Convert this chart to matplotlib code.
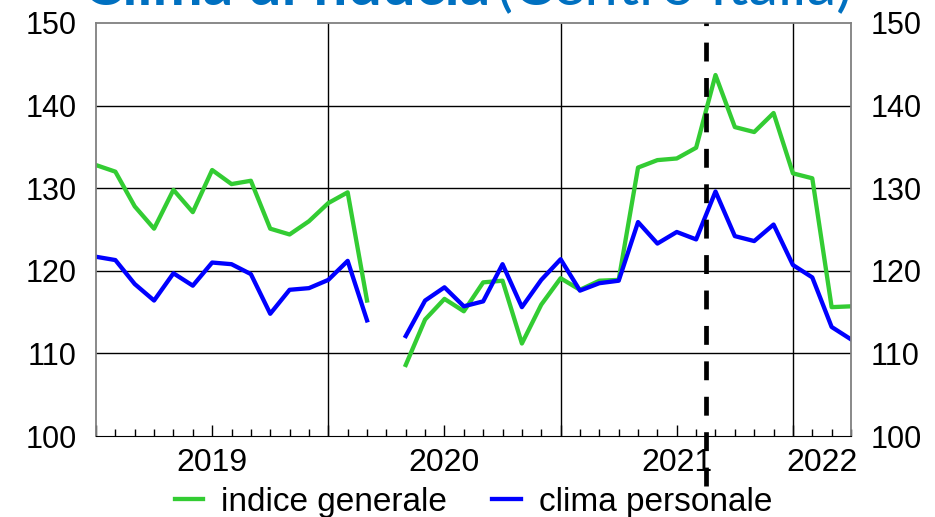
import numpy as np
import matplotlib
matplotlib.use("Agg")
from matplotlib import pyplot as plt
from matplotlib.ticker import MultipleLocator

plt.rcParams['font.family'] = ['Liberation Sans', 'DejaVu Sans']

# mesi da gen 2019 ad apr 2022 (aprile 2020 mancante)
mesi = [f"{a}-{m:02d}" for a in range(2019, 2023) for m in range(1, 13)][:40]

indice_generale = [132.8, 132.0, 127.8, 125.1, 129.8, 127.1, 132.2, 130.5, 130.9, 125.1,
                   124.4, 126.0, 128.2, 129.5, 116.4, np.nan, 108.6, 114.1, 116.6, 115.1,
                   118.6, 118.8, 111.2, 115.9, 119.1, 117.7, 118.8, 118.9, 132.5, 133.4,
                   133.6, 134.9, 143.7, 137.4, 136.8, 139.1, 131.8, 131.2, 115.6, 115.7]
clima_personale = [121.7, 121.3, 118.4, 116.4, 119.7, 118.2, 121.0, 120.8, 119.6, 114.8,
                   117.7, 117.9, 118.9, 121.2, 114.0, np.nan, 112.1, 116.4, 118.0, 115.7,
                   116.3, 120.8, 115.6, 118.9, 121.4, 117.6, 118.5, 118.8, 125.9, 123.3,
                   124.7, 123.8, 129.6, 124.2, 123.6, 125.6, 120.7, 119.2, 113.2, 111.7]

anni = ['2019', '2020', '2021', '2022']
pos_anni = [6, 18, 30, 37.5]
y_ticks = [100, 110, 120, 130, 140, 150]
linea_tratteggiata = 31.5

x = np.arange(len(mesi))

fig = plt.figure(figsize=(9.35, 5.17), dpi=100)
ax = fig.add_axes([96 / 935, 1 - 436 / 517, (851 - 96) / 935, (436 - 23) / 517])

ax.plot(x, indice_generale, color='#33CC33', lw=3.1, label='indice generale')
ax.plot(x, clima_personale, color='#0000FF', lw=3.1, label='clima personale')

ax.set_xlim(0, len(mesi) - 1)
ax.set_ylim(100, 150)

# griglia: orizzontale ogni 10, verticale a inizio anno
for v in y_ticks[1:-1]:
    ax.axhline(v, color='black', lw=1, zorder=0)
for v in [12, 24, 36]:
    ax.axvline(v, color='black', lw=1, zorder=0)

ax.axvline(linea_tratteggiata, ymin=-0.12, ymax=1.0, color='black', lw=3.4,
           dashes=(4, 3.5), clip_on=False, zorder=5)

ax.set_yticks(y_ticks)
ax.tick_params(axis='y', length=0, labelsize=22, pad=14, labelright=True, right=False)
ax.xaxis.set_major_locator(MultipleLocator(6))
ax.xaxis.set_minor_locator(MultipleLocator(1))
ax.tick_params(axis='x', which='major', direction='in', length=8, width=1, labelbottom=False)
ax.tick_params(axis='x', which='minor', direction='in', length=5, width=1)

for s in ['left', 'right', 'top']:
    ax.spines[s].set_color('#808080')
    ax.spines[s].set_linewidth(1.3)
ax.spines['bottom'].set_color('black')

for a, p in zip(anni, pos_anni):
    ax.text(p, -0.028, a, transform=ax.get_xaxis_transform(), ha='center', va='top', fontsize=23)

ax.legend(loc='center', bbox_to_anchor=(0.5, -0.16), ncol=2, frameon=False, fontsize=24,
          handlelength=0.85, handletextpad=0.55, columnspacing=1.35, borderpad=0)

# titolo (tagliato in alto nell'originale)
fig.text(490 / 935, 1 - 5 / 517, 'Clima di fiducia', family='Lato', fontweight='bold',
         fontsize=43, color='#0070C0', ha='right', va='baseline')
fig.text(497 / 935, 1 - 5 / 517, '(Centro Italia)', family='Lato',
         fontsize=43, color='#0070C0', ha='left', va='baseline')

fig.savefig('out.png', dpi=100)
